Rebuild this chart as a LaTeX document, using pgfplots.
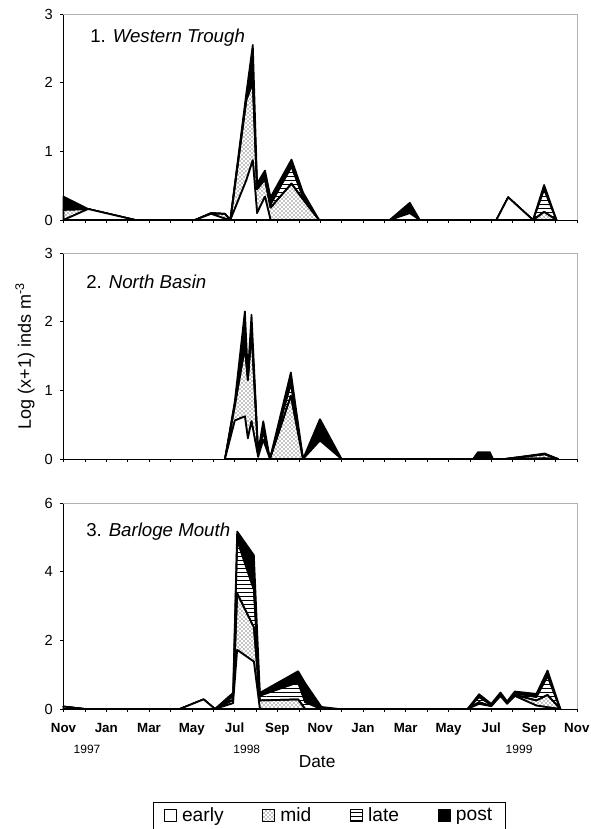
\documentclass[border=0pt]{standalone}
\usepackage{pgfplots}
\pgfplotsset{compat=1.18}
\usepackage{pgfplotstable}
\usepackage{fontspec}
\setmainfont{Liberation Sans}
\usetikzlibrary{patterns}

\pgfplotstableread{
t e m l p
0 0 0.15 0 0.19
1.15 0.16 0 0 0
3.35 0 0 0 0
6.15 0 0 0 0
6.9 0.09 0.01 0 0
7.55 0.02 0.07 0 0
7.8 0 0 0 0
8.55 0.58 1.17 0.03 0.07
8.85 0.87 1.13 0.05 0.5
9.05 0.1 0.35 0.02 0.06
9.42 0.34 0.25 0.03 0.1
9.68 0 0.18 0.05 0.1
10.66 0 0.53 0.25 0.1
11.2 0 0.3 0.03 0.07
11.95 0 0 0 0
15.25 0 0 0 0
16.19 0.1 0 0 0.15
16.66 0 0 0 0
20.24 0 0 0 0
20.79 0.33 0 0 0
21.95 0 0 0 0
22.47 0 0.12 0.33 0.06
23.05 0 0 0 0
}\tabA

\pgfplotstableread{
t e m l p
7.55 0 0 0 0
8.01 0.56 0.22 0.02 0.04
8.48 0.62 1.0 0.1 0.43
8.62 0.3 0.85 0.03 0.05
8.79 0.55 1.3 0.05 0.2
9.1 0.03 0.04 0 0.03
9.34 0.28 0.12 0.05 0.1
9.65 0 0 0 0
10.63 0 0.92 0.18 0.16
11.2 0 0 0 0
11.99 0.27 0 0 0.31
13.0 0 0 0 0
19.15 0 0 0 0
19.38 0.02 0.02 0 0.06
19.93 0.02 0.02 0 0.06
20.08 0 0 0 0
20.63 0 0 0 0
22.5 0.01 0.06 0 0.01
23.12 0 0 0 0
}\tabB

\pgfplotstableread{
t e m l p
0 0.07 0 0 0
1.0 0 0 0 0
5.44 0 0 0 0
6.55 0.28 0 0 0
7.08 0 0 0 0
7.93 0.17 0.1 0.1 0.1
8.12 1.72 1.65 1.55 0.25
8.9 1.38 1.0 1.1 1.0
9.18 0 0.25 0.14 0.08
10.97 0 0.28 0.5 0.32
11.3 0 0 0.2 0.55
12.06 0 0 0 0.06
12.9 0 0 0 0
18.89 0 0 0 0
19.43 0.15 0.05 0.15 0.08
20.0 0.08 0 0.04 0.03
20.43 0.38 0 0.05 0.05
20.74 0.15 0 0.03 0.04
21.1 0.38 0.03 0.05 0.05
22.11 0.1 0.15 0.1 0.09
22.63 0.05 0.36 0.55 0.16
23.23 0 0 0 0
}\tabC

\tikzset{ttl/.style={anchor=west, inner sep=0pt, font=\fontsize{14}{16}\selectfont}}

\pgfplotsset{
  panel/.style={
    scale only axis, width=385pt, height=154.5pt,
    xmin=0, xmax=24, ymin=0, anchor=north west,
    axis x line*=bottom, axis y line*=left,
    xtick={0,...,24}, xticklabels={},
    tick align=outside, major tick length=2.5pt,
    tick style={black, thin}, axis line style={black, thin},
    stack plots=y, clip=false,
    /pgf/number format/assume math mode=true,
    yticklabel style={font=\fontsize{11}{13}\selectfont, xshift=-2pt},
    every axis plot/.append style={line width=1.3pt, draw=black, line join=round},
    legend image code/.code={\draw[##1, line width=0.6pt] (0pt,-4.5pt) rectangle (9pt,4.5pt);},
  },
  eS/.style={fill=white},
  mS/.style={pattern=crosshatch dots},
  lS/.style={pattern=horizontal lines},
  pS/.style={fill=black},
}

\begin{document}
\begin{tikzpicture}
\useasboundingbox (-47.625pt,10.5pt) rectangle (394.875pt,-611.25pt);

% Panel 1
\begin{axis}[panel, at={(0,0)}, ymax=3, ytick={0,1,2,3}]
\addplot[eS] table[x=t,y=e]{\tabA} \closedcycle;
\addplot[mS] table[x=t,y=m]{\tabA} \closedcycle;
\addplot[lS] table[x=t,y=l]{\tabA} \closedcycle;
\addplot[pS] table[x=t,y=p]{\tabA} \closedcycle;
\draw[gray!60, thin] (rel axis cs:0,1) -- (rel axis cs:1,1) -- (rel axis cs:1,0);
\node[ttl, xshift=19.9pt, yshift=-18pt] at (rel axis cs:0,1) {1. \textit{Western Trough}};
\end{axis}

% Panel 2
\begin{axis}[panel, at={(0,-179.25pt)}, ymax=3, ytick={0,1,2,3}]
\addplot[eS] table[x=t,y=e]{\tabB} \closedcycle;
\addplot[mS] table[x=t,y=m]{\tabB} \closedcycle;
\addplot[lS] table[x=t,y=l]{\tabB} \closedcycle;
\addplot[pS] table[x=t,y=p]{\tabB} \closedcycle;
\draw[gray!60, thin] (rel axis cs:0,1) -- (rel axis cs:1,1) -- (rel axis cs:1,0);
\node[ttl, xshift=16.9pt, yshift=-21.5pt] at (rel axis cs:0,1) {2. \textit{North Basin}};
\node[rotate=90, font=\fontsize{13.5}{16}\selectfont, xshift=0pt, yshift=28.9pt] at (rel axis cs:0,0.5) {Log (x+1) inds m\textsuperscript{-3}};
\end{axis}

% Panel 3
\begin{axis}[panel, at={(0,-366.75pt)}, ymax=6, ytick={0,2,4,6},
  xticklabels={Nov,,Jan,,Mar,,May,,Jul,,Sep,,Nov,,Jan,,Mar,,May,,Jul,,Sep,,Nov},
  xticklabel style={font=\bfseries\fontsize{10}{12}\selectfont, text height=1.6ex, text depth=0.4ex, yshift=-3pt},
  legend columns=4,
  legend style={at={(0.518,-0.517)}, anchor=center, draw=black, thin,
    font=\fontsize{14.4}{16}\selectfont, inner xsep=8pt, inner ysep=2pt,
    /tikz/every odd column/.append style={column sep=2pt},
    /tikz/every even column/.append style={column sep=27pt}},
  legend cell align=left]
\addplot[eS] table[x=t,y=e]{\tabC} \closedcycle;
\addlegendentry{early}
\addplot[mS] table[x=t,y=m]{\tabC} \closedcycle;
\addlegendentry{mid}
\addplot[lS] table[x=t,y=l]{\tabC} \closedcycle;
\addlegendentry{late}
\addplot[pS] table[x=t,y=p]{\tabC} \closedcycle;
\addlegendentry{post}
\draw[gray!60, thin] (rel axis cs:0,1) -- (rel axis cs:1,1) -- (rel axis cs:1,0);
\node[ttl, xshift=16.9pt, yshift=-21.5pt] at (rel axis cs:0,1) {3. \textit{Barloge Mouth}};
\node[font=\fontsize{9}{10}\selectfont, yshift=-30pt] at (axis cs:1.1,0) {1997};
\node[font=\fontsize{9}{10}\selectfont, yshift=-30pt] at (axis cs:8.57,0) {1998};
\node[font=\fontsize{9}{10}\selectfont, yshift=-30pt] at (axis cs:21.3,0) {1999};
\node[font=\fontsize{13}{15}\selectfont, yshift=-39.75pt] at (rel axis cs:0.494,0) {Date};
\end{axis}
\end{tikzpicture}
\end{document}
